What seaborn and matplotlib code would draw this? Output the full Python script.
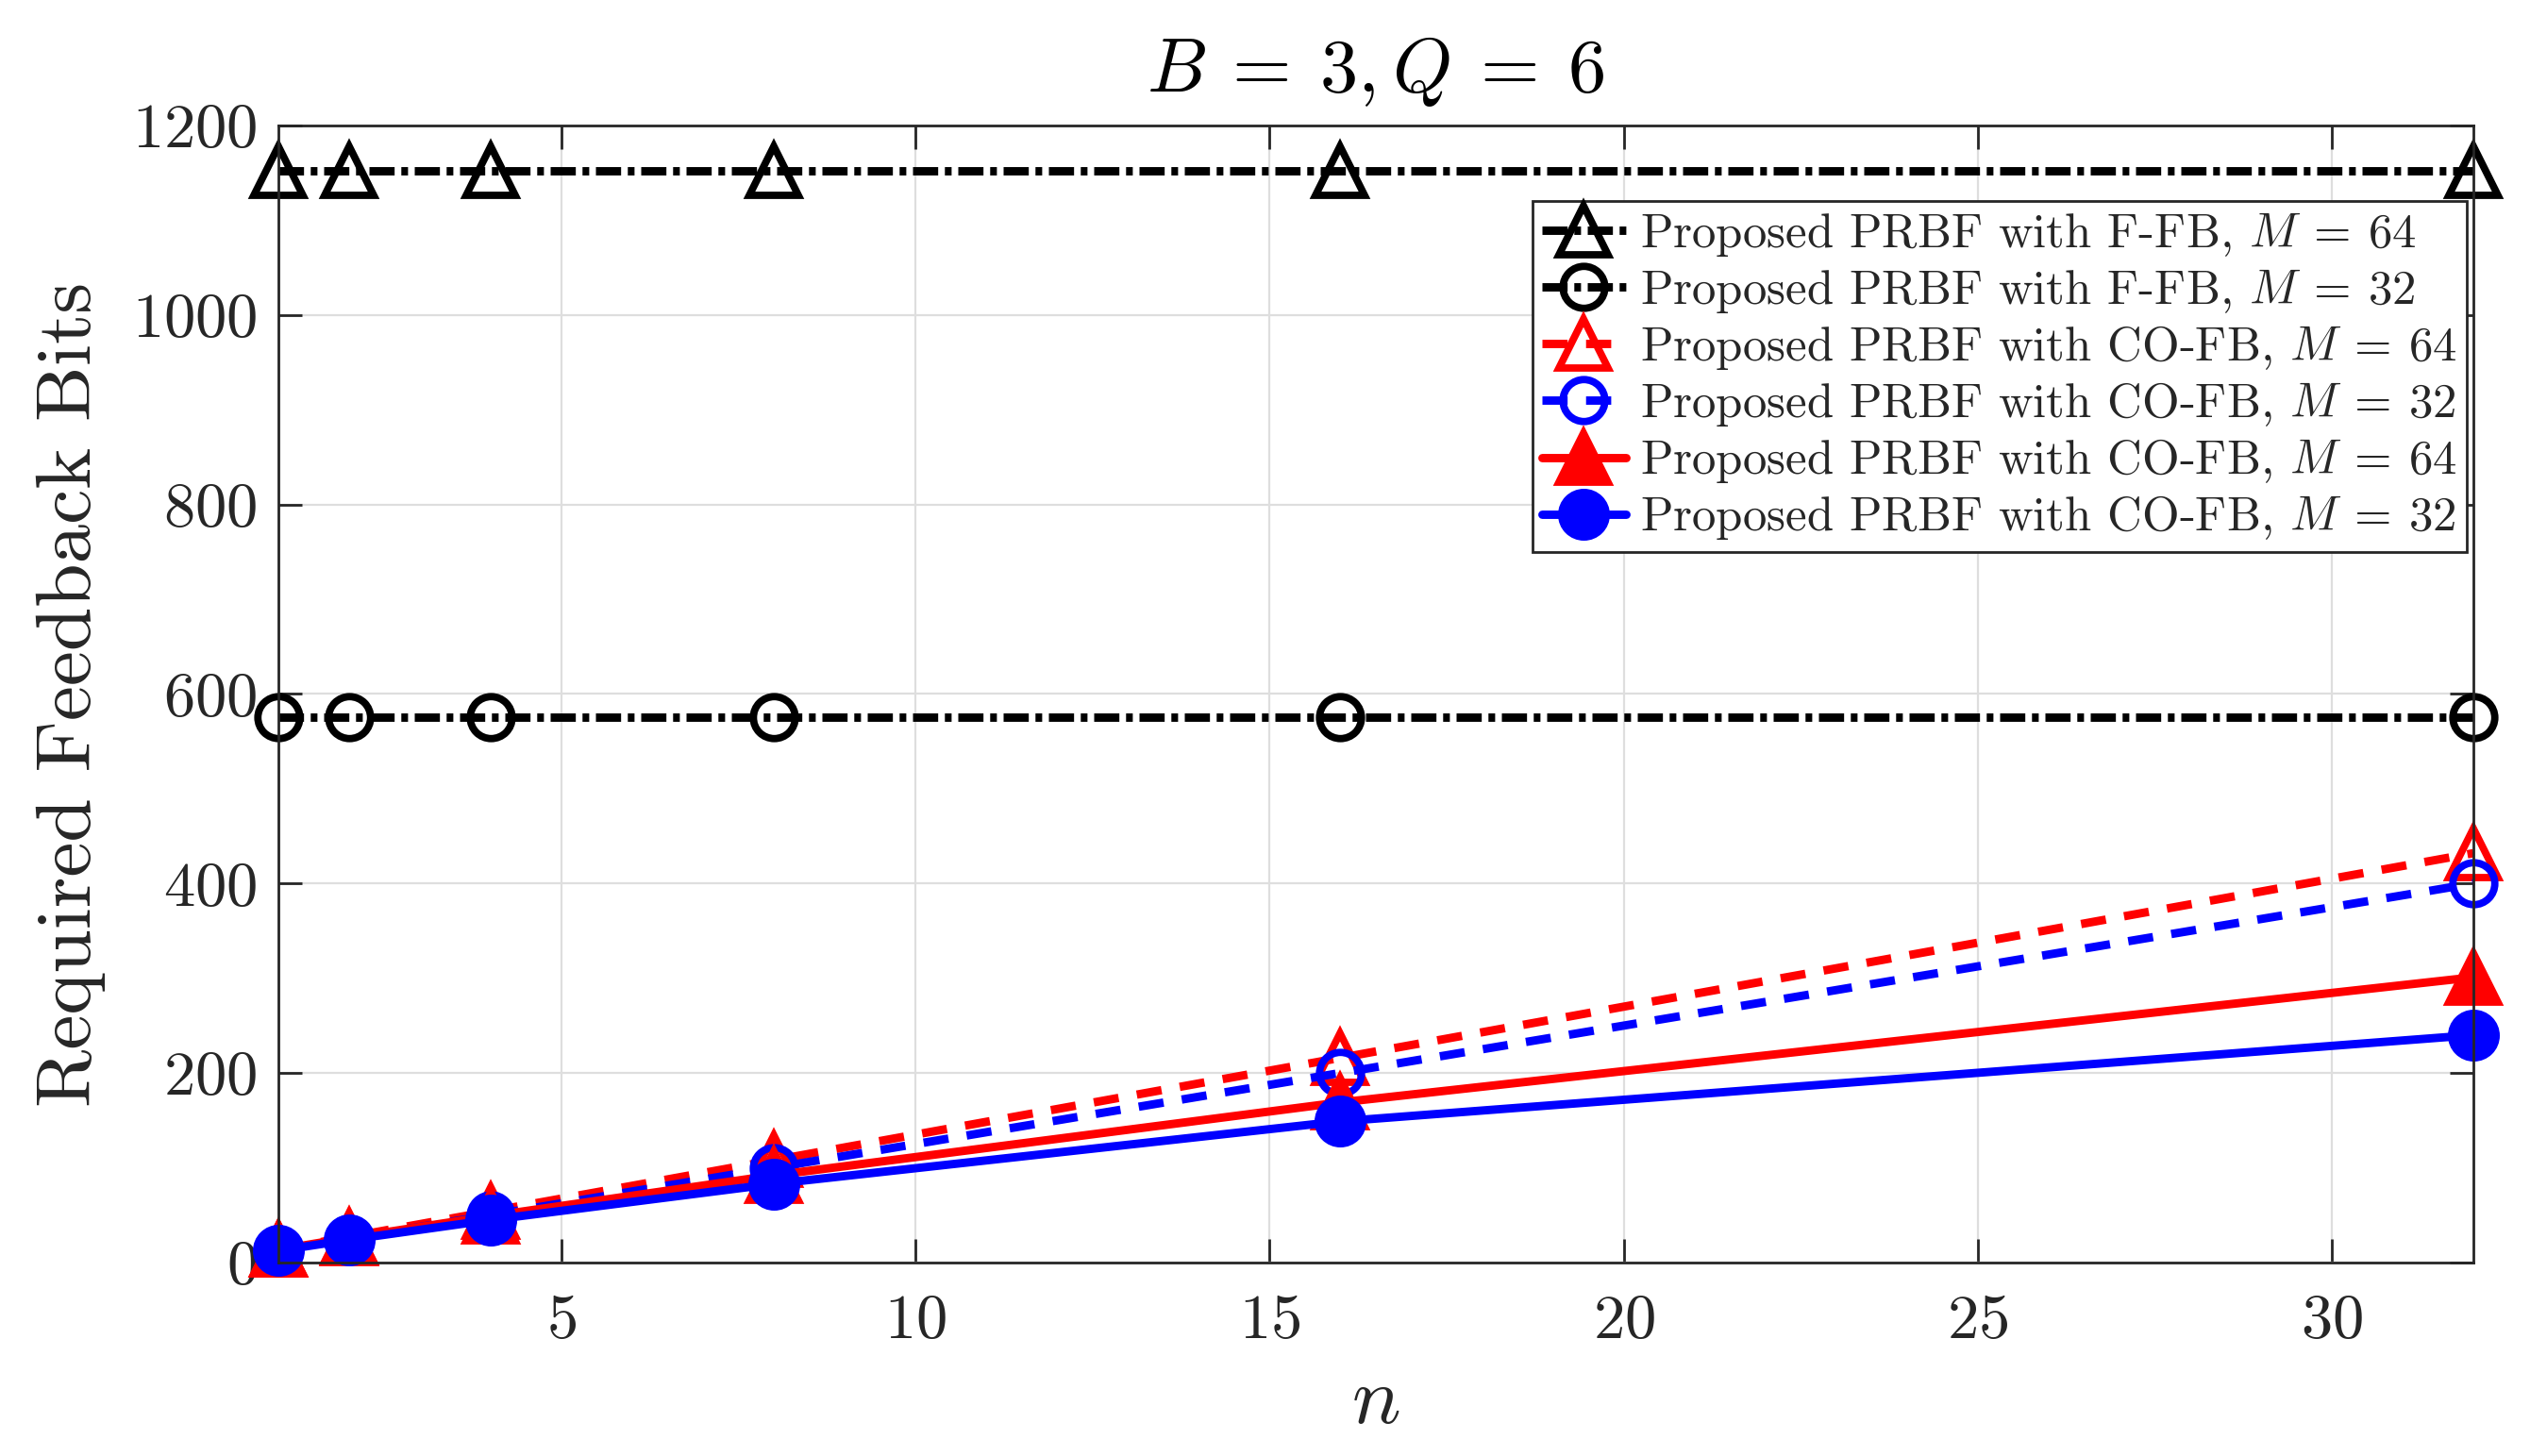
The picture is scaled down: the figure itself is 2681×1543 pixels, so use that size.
import matplotlib
matplotlib.use("Agg")
import matplotlib.pyplot as plt
import seaborn as sns

# Data
n_vals = [1, 2, 4, 8, 16, 32]
ffb_m64 = [1152, 1152, 1152, 1152, 1152, 1152]
ffb_m32 = [576, 576, 576, 576, 576, 576]
cofb_dash_m64 = [13.5, 27, 54, 108, 216, 432]
cofb_dash_m32 = [12.5, 25, 50, 100, 200, 400]
cofb_solid_m64 = [13.5, 26, 49, 92, 169, 301]
cofb_solid_m32 = [12.5, 24, 45, 83, 149, 240]

labels = [
    r"Proposed PRBF with F-FB, $M\:=\:64$",
    r"Proposed PRBF with F-FB, $M\:=\:32$",
    r"Proposed PRBF with CO-FB, $M\:=\:64$",
    r"Proposed PRBF with CO-FB, $M\:=\:32$",
    r"Proposed PRBF with CO-FB, $M\:=\:64$",
    r"Proposed PRBF with CO-FB, $M\:=\:32$",
]

sns.set_theme(style="whitegrid")
plt.rcParams["font.family"] = ["cmr10", "DejaVu Serif"]
plt.rcParams["mathtext.fontset"] = "cm"
plt.rcParams["axes.formatter.use_mathtext"] = True
plt.rcParams["axes.unicode_minus"] = False

fig = plt.figure(figsize=(13.405, 7.715), dpi=200)
ax = fig.add_axes([0.110, 0.1329, 0.8676, 0.7809])

series = [
    (ffb_m64, "black", "^", "none", "dashdot", 19),
    (ffb_m32, "black", "o", "none", "dashdot", 16),
    (cofb_dash_m64, "red", "^", "none", "dashed", 19),
    (cofb_dash_m32, "blue", "o", "none", "dashed", 16),
    (cofb_solid_m64, "red", "^", "red", "solid", 19),
    (cofb_solid_m32, "blue", "o", "blue", "solid", 17),
]

for (vals, col, mk, mfc, style, ms), lab in zip(series, labels):
    sns.lineplot(x=n_vals, y=vals, ax=ax, color=col, marker=mk, markersize=ms,
                 markerfacecolor=mfc, markeredgecolor=col, markeredgewidth=2.8,
                 linewidth=3.2, label=lab, clip_on=False)
    line = ax.lines[-1]
    if style == "dashdot":
        line.set_dashes([3.0, 0.8, 0.8, 0.8])
    elif style == "dashed":
        line.set_dashes([3.0, 2.2])

ax.set_xlim(1, 32)
ax.set_ylim(0, 1200)
ax.set_xticks([5, 10, 15, 20, 25, 30])
ax.set_yticks([0, 200, 400, 600, 800, 1000, 1200])

ax.grid(True, color="#dedede", linewidth=0.8)
for sp in ax.spines.values():
    sp.set_color("#262626")
    sp.set_linewidth(1.0)
ax.tick_params(direction="in", length=9, width=1.0, colors="#262626",
               labelsize=24, top=True, right=True, bottom=True, left=True)
ax.tick_params(axis="x", pad=12)
ax.tick_params(axis="y", pad=8)

ax.set_xlabel(r"$n$", fontsize=31, labelpad=6, color="#262626")
ax.set_ylabel("Required Feedback Bits", fontsize=30, labelpad=10, color="#262626")
ax.set_title(r"$B\:=\:3, Q\:=\:6$", fontsize=29, pad=13, color="black")

leg = ax.legend(loc="upper right", bbox_to_anchor=(0.997, 0.934), fontsize=18.3,
                frameon=True, fancybox=False, edgecolor="#262626", framealpha=1,
                borderpad=0.2, labelspacing=0.18, handlelength=1.75,
                handletextpad=0.3, borderaxespad=0)
leg.get_frame().set_linewidth(1.0)

fig.savefig("out.png", dpi=200)
